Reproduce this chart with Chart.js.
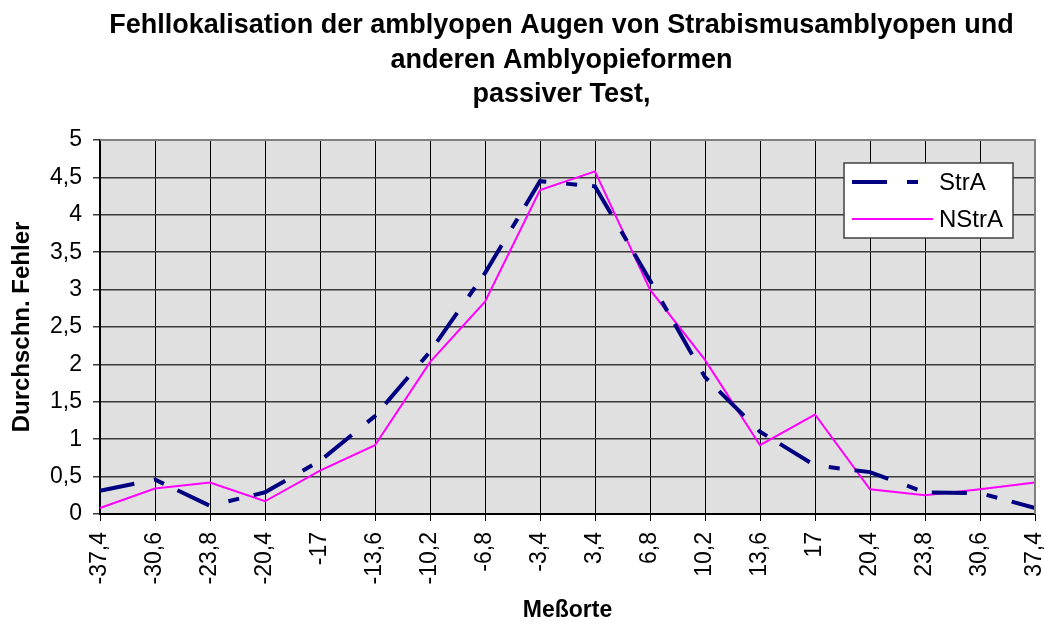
<!DOCTYPE html>
<html>
<head>
<meta charset="utf-8">
<script src="https://cdn.jsdelivr.net/npm/chart.js@4/dist/chart.umd.min.js"></script>
<style>
  html, body { margin: 0; padding: 0; background: #fff; }
  #wrap { width: 1044px; height: 624px; }
</style>
</head>
<body>
<div id="wrap"><canvas id="chart" width="1044" height="624"></canvas></div>
<script>
// Messorte (Kategorien)
const messorte = ['-37,4', '-30,6', '-23,8', '-20,4', '-17', '-13,6', '-10,2', '-6,8', '-3,4',
  '3,4', '6,8', '10,2', '13,6', '17', '20,4', '23,8', '30,6', '37,4'];

// Durchschnittliche Fehler
const strA = [0.31, 0.46, 0.11, 0.29, 0.71, 1.31, 2.17, 3.22, 4.45, 4.38, 3.12, 1.83, 1.1, 0.65, 0.56, 0.29, 0.28, 0.08];
const nStrA = [0.08, 0.34, 0.42, 0.17, 0.58, 0.92, 2.03, 2.84, 4.33, 4.58, 3.0, 2.06, 0.92, 1.33, 0.33, 0.25, 0.33, 0.42];

const titleLines = [
  'Fehllokalisation der amblyopen Augen von Strabismusamblyopen und',
  'anderen Amblyopieformen',
  'passiver Test,'
];

const FONT = "'Liberation Sans', Arial, sans-serif";

// Hintergrund und Rahmen der Zeichenfläche
const plotBackground = {
  id: 'plotBackground',
  beforeDraw(chart) {
    const { ctx, chartArea: a } = chart;
    ctx.save();
    ctx.fillStyle = '#e0e0e0';
    ctx.fillRect(a.left, a.top, a.right - a.left, a.bottom - a.top);
    ctx.restore();
  },
  afterDraw(chart) {
    const { ctx, chartArea: a } = chart;
    ctx.save();
    ctx.strokeStyle = '#808080';
    ctx.lineWidth = 2;
    ctx.beginPath();
    ctx.moveTo(a.left, a.top);
    ctx.lineTo(a.right, a.top);
    ctx.lineTo(a.right, a.bottom);
    ctx.stroke();
    ctx.restore();
  }
};

// Titel (etwa über der Zeichenfläche zentriert)
const centeredTitle = {
  id: 'centeredTitle',
  afterDraw(chart) {
    const { ctx, chartArea: a } = chart;
    const cx = (a.left + a.right) / 2 - 6;
    ctx.save();
    ctx.fillStyle = '#000';
    ctx.font = 'bold 27px ' + FONT;
    ctx.textAlign = 'center';
    ctx.textBaseline = 'middle';
    const ys = [26, 61, 95];
    titleLines.forEach((t, i) => ctx.fillText(t, cx, ys[i]));
    ctx.restore();
  }
};

// Legende innerhalb der Zeichenfläche
const insideLegend = {
  id: 'insideLegend',
  afterDraw(chart) {
    const { ctx } = chart;
    const x = 844, y = 163, w = 169, h = 75;
    ctx.save();
    ctx.fillStyle = '#fff';
    ctx.fillRect(x, y, w, h);
    ctx.strokeStyle = '#404040';
    ctx.lineWidth = 1.5;
    ctx.strokeRect(x, y, w, h);
    const rows = [y + 19, y + 56];
    chart.data.datasets.forEach((ds, i) => {
      ctx.strokeStyle = ds.borderColor;
      ctx.lineWidth = ds.borderWidth;
      ctx.setLineDash(ds.borderDash || []);
      ctx.beginPath();
      ctx.moveTo(852, rows[i]);
      ctx.lineTo(933, rows[i]);
      ctx.stroke();
      ctx.setLineDash([]);
      ctx.fillStyle = '#000';
      ctx.font = '24px ' + FONT;
      ctx.textAlign = 'left';
      ctx.textBaseline = 'middle';
      ctx.fillText(ds.label, 939, rows[i] + 1);
    });
    ctx.restore();
  }
};

new Chart(document.getElementById('chart'), {
  type: 'line',
  data: {
    labels: messorte,
    datasets: [{
      label: 'StrA',
      data: strA,
      borderColor: '#000080',
      borderWidth: 4,
      borderDash: [35, 20, 11, 15],
      pointRadius: 0,
      tension: 0,
      fill: false
    }, {
      label: 'NStrA',
      data: nStrA,
      borderColor: '#ff00ff',
      borderWidth: 2,
      pointRadius: 0,
      tension: 0,
      fill: false
    }]
  },
  options: {
    responsive: false,
    animation: false,
    layout: { padding: { top: 140, right: 9, left: 0, bottom: 0 } },
    plugins: {
      legend: { display: false },
      title: { display: false },
      tooltip: { enabled: false }
    },
    scales: {
      x: {
        offset: false,
        afterFit(scale) {
          scale.height = 110;
          scale.paddingLeft = 0;
          scale.paddingRight = 0;
        },
        grid: { color: '#000', lineWidth: 1, tickLength: 7, drawOnChartArea: true },
        border: { color: '#000', width: 2 },
        ticks: {
          color: '#000',
          font: { family: FONT, size: 23 },
          minRotation: 90,
          maxRotation: 90,
          autoSkip: false,
          padding: 11
        },
        title: {
          display: true,
          text: 'Meßorte',
          color: '#000',
          font: { family: FONT, size: 23, weight: 'bold' },
          padding: { top: 0, bottom: 0 }
        }
      },
      y: {
        min: 0,
        max: 5,
        afterFit(scale) { scale.width = 100; },
        grid: { color: '#3a3a3a', lineWidth: 1.5, tickLength: 7 },
        border: { color: '#000', width: 2 },
        ticks: {
          stepSize: 0.5,
          color: '#000',
          font: { family: FONT, size: 23 },
          padding: 11,
          callback: (v) => String(v).replace('.', ',')
        },
        title: {
          display: true,
          text: 'Durchschn. Fehler',
          color: '#000',
          font: { family: FONT, size: 24, weight: 'bold' },
          padding: { top: 8, bottom: 0 }
        }
      }
    }
  },
  plugins: [plotBackground, centeredTitle, insideLegend]
});
</script>
</body>
</html>
